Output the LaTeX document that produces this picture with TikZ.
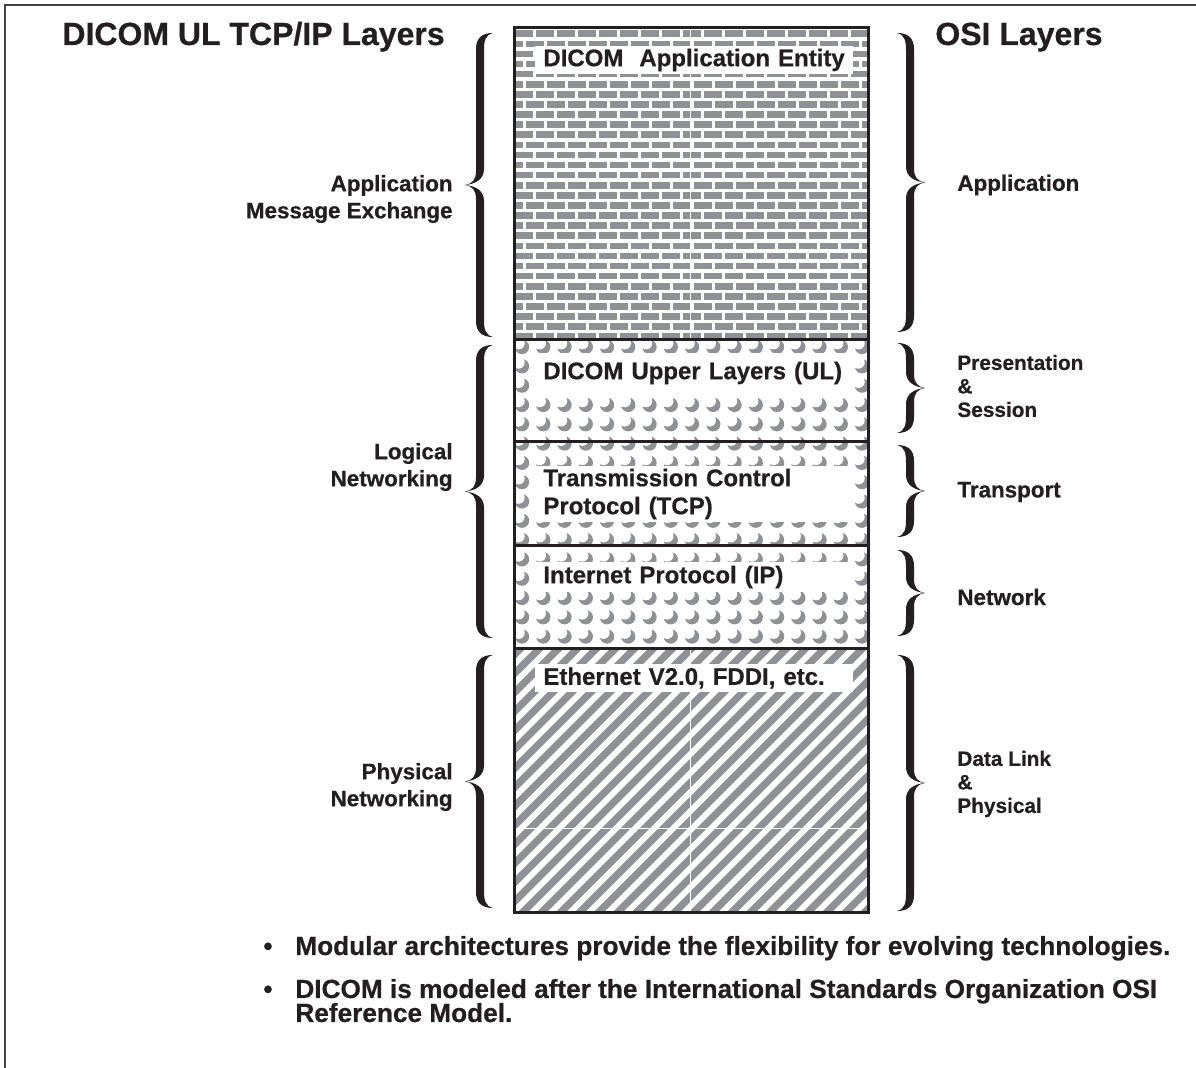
\documentclass[tikz,border=0pt]{standalone}
\usepackage{fontspec}
\setmainfont{Liberation Sans}[BoldFeatures={FakeBold=0.6}]
\usetikzlibrary{positioning}

\definecolor{ink}{RGB}{35,31,32}
\definecolor{patgray}{RGB}{143,145,148}

\tikzset{
  heading/.style={font=\fontsize{16}{19}\selectfont\bfseries, text=ink, inner sep=0pt},
  sidelabel/.style={font=\fontsize{11.2}{13.5}\selectfont\bfseries, text=ink, inner sep=0pt},
  smalllabel/.style={font=\fontsize{10.4}{11.75}\selectfont\bfseries, text=ink, inner sep=0pt},
  layerlabel/.style={font=\fontsize{12}{14}\selectfont\bfseries, text=ink, fill=white,
    inner xsep=4pt, inner ysep=0pt, text width=151pt, align=left},
  bulletline/.style={font=\fontsize{13.1}{13}\selectfont\bfseries, text=ink, inner sep=0pt},
  layerline/.style={draw=ink, line width=1.5pt},
  seam/.style={white, line width=0.5pt},
}

% curly brace: spine x, top y, bottom y, 1 = opens right / -1 = opens left
\newcommand{\layerbrace}[4]{%
  \pgfmathsetmacro{\cH}{#3-#2}%
  \pgfmathsetmacro{\cM}{\cH/2}%
  \begin{scope}[shift={(#1,#2)}, xscale=#4]
    \fill[ink] (13,0) .. controls (2,0) and (-4,5) .. (-4,16)
      -- (-4,\cM-14) .. controls (-4,\cM-5) and (-8,\cM-1) .. (-15,\cM)
      .. controls (-8,\cM+1) and (-4,\cM+5) .. (-4,\cM+14)
      -- (-4,\cH-16) .. controls (-4,\cH-5) and (2,\cH) .. (13,\cH)
      .. controls (5,\cH-2) and (4,\cH-8) .. (4,\cH-18)
      -- (4,\cM+16) .. controls (4,\cM+6) and (-4,\cM+1) .. (-15,\cM)
      .. controls (-4,\cM-1) and (4,\cM-6) .. (4,\cM-16)
      -- (4,18) .. controls (4,8) and (5,2) .. (13,0) -- cycle;
  \end{scope}}

\begin{document}
\begin{tikzpicture}[x=0.5pt, y=-0.5pt]
\useasboundingbox (0,0) rectangle (1196,1068);

%% frame (top and left only)
\draw[ink!85, line width=1pt] (5,1068) -- (5,5) -- (1196,5);

%% headings
\node[heading, anchor=base west] (ulhead) at (62,45) {DICOM UL TCP/IP Layers};
\node[heading, anchor=base west] (osihead) at (935,45) {OSI Layers};

% APPLICATION ENTITY - bricks
\begin{scope}
  \clip (514,28) rectangle (868,340);
  \foreach \r in {0,...,30}{
    \pgfmathsetmacro{\yy}{30.5+10.1*\r}
    \pgfmathsetmacro{\brickshift}{mod(\r,2)*10.5}
    \foreach \c in {-1,...,17}
      \fill[patgray] ({515+\brickshift+21*\c},\yy) rectangle ++(18,6.6);
  }
  \draw[seam] (690,28) -- (690,340);
\end{scope}

% UL / TCP / IP - crescents
\begin{scope}
  \clip (514,340) rectangle (868,649);
  \foreach \r in {0,...,16}{
    \foreach \c in {0,...,16}{
      \fill[patgray] ({522+21.25*\c},{347+19.3*\r}) circle (7.2);
      \fill[white] ({518.5+21.25*\c},{343.2+19.3*\r}) circle (6.2);
    }
  }
\end{scope}

% ETHERNET - stripes
\begin{scope}
  \clip (514,649) rectangle (868,913);
  \foreach \k in {0,...,34}
    \draw[patgray, line width=3.7pt] ({230+19*\k},920) -- ++(290,-290);
  \draw[seam] (690,649) -- (690,913);
  \draw[seam] (514,829) -- (868,829);
\end{scope}

%% layer labels
\node[layerlabel, anchor=west, minimum height=14pt] (ae) at (535,60) {DICOM\ \ Application Entity};
\node[layerlabel, anchor=west, minimum height=20pt] (ul) at (535,373) {DICOM Upper Layers (UL)};
\node[layerlabel, anchor=west, minimum height=28pt] (tcp) at (535,494) {Transmission Control\\Protocol (TCP)};
\node[layerlabel, anchor=west, minimum height=15pt] (ip) at (535,577) {Internet Protocol (IP)};
\node[layerlabel, anchor=west, minimum height=14pt] (eth) at (535,678) {Ethernet V2.0, FDDI, etc.};

%% column outline and dividers
\draw[layerline] (514,28) rectangle (868,913);
\foreach \yy in {340,442,546,649}
  \draw[layerline] (514,\yy) -- (868,\yy);

%% left braces
\layerbrace{480}{33}{337}{1}
\layerbrace{480}{345}{638}{1}
\layerbrace{480}{655}{908}{1}

%% right braces
\layerbrace{910}{33}{332}{-1}
\layerbrace{910}{343}{433}{-1}
\layerbrace{910}{445}{537}{-1}
\layerbrace{910}{550}{636}{-1}
\layerbrace{910}{655}{911}{-1}

%% TCP/IP side
\node[sidelabel, anchor=east, align=right] (msgx) at (453,199) {Application\\Message Exchange};
\node[sidelabel, anchor=east, align=right] (lognet) at (453,467) {Logical\\Networking};
\node[sidelabel, anchor=east, align=right] (physnet) at (453,787) {Physical\\Networking};

%% OSI side
\node[sidelabel, anchor=west] (osiapp) at (957,185) {Application};
\node[smalllabel, anchor=west, align=left] (presses) at (957,386) {Presentation\\\&\\Session};
\node[sidelabel, anchor=west] (transport) at (957,492) {Transport};
\node[sidelabel, anchor=west] (network) at (957,597) {Network};
\node[smalllabel, anchor=west, align=left] (dlphys) at (957,784) {Data Link\\\&\\Physical};

%% bullets
\node[bulletline, anchor=base west] (modular) at (263,955) {\makebox[16pt][l]{\textbullet}Modular architectures provide the flexibility for evolving technologies.};
\node[bulletline, anchor=base west] (modeled) at (263,998) {\makebox[16pt][l]{\textbullet}DICOM is modeled after the International Standards Organization OSI};
\node[bulletline, anchor=base west] (refmodel) at (295,1022) {Reference Model.};
\end{tikzpicture}
\end{document}
